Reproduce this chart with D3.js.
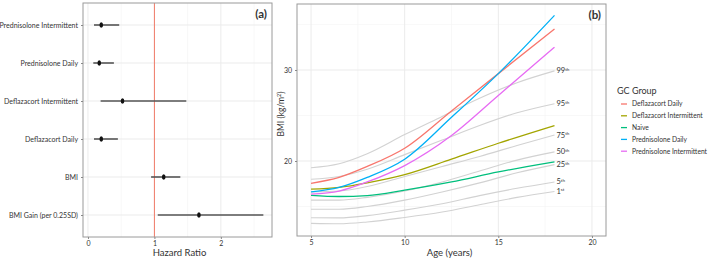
<!DOCTYPE html>
<html>
<head>
<meta charset="utf-8">
<script src="https://cdn.jsdelivr.net/npm/d3@7"></script>
<style>
  body { margin: 0; background: #fff; }
  svg text { font-family: Lato, "Open Sans", sans-serif; fill: #333; }
</style>
</head>
<body>
<svg id="chart" width="709" height="258"></svg>
<script>
// ---- panel (a) data: hazard ratios ----
const hrLabels = ["Prednisolone Intermittent", "Prednisolone Daily", "Deflazacort Intermittent",
  "Deflazacort Daily", "BMI", "BMI Gain (per 0.25SD)"];
const hrEstimate = [0.2, 0.17, 0.52, 0.2, 1.14, 1.67];
const hrLower = [0.09, 0.08, 0.19, 0.09, 0.95, 1.05];
const hrUpper = [0.47, 0.39, 1.48, 0.45, 1.39, 2.64];
const hrTicks = [0, 1, 2];

// ---- panel (b) data: BMI curves ----
const groupNames = ["Deflazacort Daily", "Deflazacort Intermittent", "Naive", "Prednisolone Daily", "Prednisolone Intermittent"];
const groupColors = ["#F8766D", "#A3A500", "#00BF7D", "#00B0F6", "#E76BF3"];
const groupAges = [5, 6.5, 8, 10, 12.5, 15, 18];
const deflDaily = [17.55, 18.2, 19.4, 21.4, 25.5, 29.6, 34.5];
const deflInter = [16.9, 17.1, 17.6, 18.5, 20.2, 21.95, 23.9];
const naive = [16.23, 16.1, 16.2, 16.8, 17.7, 18.8, 19.9];
const predDaily = [16.6, 17.1, 18.2, 20.2, 24.8, 29.6, 36.0];
const predInter = [16.37, 16.7, 17.7, 19.5, 22.8, 27.2, 32.5];
const groupValues = [deflDaily, deflInter, naive, predDaily, predInter];

const pctAges = [5, 6.5, 8, 10, 12, 14, 16, 18];
const pctNames = ["1", "5", "25", "50", "75", "95", "99"];
const pctSuffix = ["st", "th", "th", "th", "th", "th", "th"];
const pct1 = [13.15, 13.1, 13.3, 13.8, 14.4, 15.2, 16.0, 16.65];
const pct5 = [13.77, 13.75, 14.0, 14.6, 15.3, 16.2, 17.0, 17.7];
const pct25 = [14.7, 14.7, 15.0, 15.7, 16.6, 17.6, 18.7, 19.6];
const pct50 = [15.7, 15.7, 16.0, 16.7, 17.7, 18.9, 20.1, 21.0];
const pct75 = [16.6, 16.7, 17.2, 18.3, 19.4, 20.5, 21.7, 22.85];
const pct95 = [18.0, 18.3, 19.1, 20.7, 22.3, 23.9, 25.3, 26.3];
const pct99 = [19.26, 19.7, 20.8, 22.9, 24.9, 26.9, 28.6, 29.9];
const pctValues = [pct1, pct5, pct25, pct50, pct75, pct95, pct99];

const ageTicks = [5, 10, 15, 20];
const bmiTicks = [20, 30];

const svg = d3.select("#chart");
const gridCol = "#ebebeb", borderCol = "#9a9a9a";

// ================= panel (a) =================
const a = { left: 83, right: 272, top: 3, bottom: 237 };
const xa = d3.scaleLinear().domain([-0.075, 2.77]).range([a.left, a.right]);
const ya = d3.scalePoint().domain(hrLabels).range([25, 215]);

const ga = svg.append("g");
[0.5, 1.5, 2.5].forEach(v => ga.append("line")
  .attr("x1", xa(v)).attr("x2", xa(v)).attr("y1", a.top).attr("y2", a.bottom)
  .attr("stroke", "#f4f4f4").attr("stroke-width", 0.6));
hrTicks.forEach(v => ga.append("line")
  .attr("x1", xa(v)).attr("x2", xa(v)).attr("y1", a.top).attr("y2", a.bottom)
  .attr("stroke", gridCol).attr("stroke-width", 1));
hrLabels.forEach(l => ga.append("line")
  .attr("x1", a.left).attr("x2", a.right).attr("y1", ya(l)).attr("y2", ya(l))
  .attr("stroke", gridCol).attr("stroke-width", 1));

ga.append("line")
  .attr("x1", xa(1)).attr("x2", xa(1)).attr("y1", a.top).attr("y2", a.bottom)
  .attr("stroke", "#F07A68").attr("stroke-width", 1);

ga.selectAll(".ci").data(hrLabels).enter().append("line")
  .attr("x1", (d, i) => xa(hrLower[i])).attr("x2", (d, i) => xa(hrUpper[i]))
  .attr("y1", d => ya(d)).attr("y2", d => ya(d))
  .attr("stroke", "#555").attr("stroke-width", 1.6);
ga.selectAll(".pt").data(hrLabels).enter().append("ellipse")
  .attr("cx", (d, i) => xa(hrEstimate[i])).attr("cy", d => ya(d))
  .attr("rx", 1.8).attr("ry", 2.8).attr("fill", "#111");

ga.append("rect").attr("x", a.left).attr("y", a.top)
  .attr("width", a.right - a.left).attr("height", a.bottom - a.top)
  .attr("fill", "none").attr("stroke", borderCol).attr("stroke-width", 1);

const axA = ga.append("g").attr("transform", `translate(0,${a.bottom})`)
  .call(d3.axisBottom(xa).tickValues(hrTicks).tickFormat(d3.format("d")).tickSize(2).tickPadding(2));
axA.select(".domain").remove();
axA.selectAll("line").attr("stroke", "#888");
axA.selectAll("text").style("font-size", "7px").attr("fill", "#444");

const ayA = ga.append("g").attr("transform", `translate(${a.left},0)`)
  .call(d3.axisLeft(ya).tickSize(2).tickPadding(3));
ayA.select(".domain").remove();
ayA.selectAll("line").attr("stroke", "#888");
ayA.selectAll("text").style("font-size", "7px").attr("fill", "#333");

ga.append("text").attr("x", (a.left + a.right) / 2 + 2).attr("y", 256)
  .attr("text-anchor", "middle").style("font-size", "9.5px").text("Hazard Ratio");
ga.append("text").attr("x", a.right - 5).attr("y", 18)
  .attr("text-anchor", "end").style("font-size", "11.5px").style("font-weight", "bold")
  .attr("fill", "#111").text("(a)");

// ================= panel (b) =================
const b = { left: 297, right: 606, top: 4, bottom: 236 };
const xb = d3.scaleLinear().domain([4.25, 20.75]).range([b.left, b.right]);
const yb = d3.scaleLinear().domain([11.76, 37.25]).range([b.bottom, b.top]);

const gb = svg.append("g");
[7.5, 12.5, 17.5].forEach(v => gb.append("line")
  .attr("x1", xb(v)).attr("x2", xb(v)).attr("y1", b.top).attr("y2", b.bottom)
  .attr("stroke", "#f4f4f4").attr("stroke-width", 0.6));
[15, 25, 35].forEach(v => gb.append("line")
  .attr("x1", b.left).attr("x2", b.right).attr("y1", yb(v)).attr("y2", yb(v))
  .attr("stroke", "#f4f4f4").attr("stroke-width", 0.6));
ageTicks.forEach(v => gb.append("line")
  .attr("x1", xb(v)).attr("x2", xb(v)).attr("y1", b.top).attr("y2", b.bottom)
  .attr("stroke", gridCol).attr("stroke-width", 1));
bmiTicks.forEach(v => gb.append("line")
  .attr("x1", b.left).attr("x2", b.right).attr("y1", yb(v)).attr("y2", yb(v))
  .attr("stroke", gridCol).attr("stroke-width", 1));

const lineP = d3.line().x(d => xb(d[0])).y(d => yb(d[1])).curve(d3.curveMonotoneX);

pctValues.forEach((vals, i) => {
  gb.append("path").datum(pctAges.map((ag, j) => [ag, vals[j]]))
    .attr("d", lineP).attr("fill", "none").attr("stroke", "#d2d2d2").attr("stroke-width", 1.1);
  const t = gb.append("text").attr("x", xb(18) + 2).attr("y", yb(vals[vals.length - 1]) + 2.5)
    .style("font-size", "7.5px").attr("fill", "#444");
  t.append("tspan").text(pctNames[i]);
  t.append("tspan").attr("dy", -2.5).style("font-size", "4.5px").text(pctSuffix[i]);
});

groupValues.forEach((vals, i) => {
  gb.append("path").datum(groupAges.map((ag, j) => [ag, vals[j]]))
    .attr("d", lineP).attr("fill", "none").attr("stroke", groupColors[i]).attr("stroke-width", 1.3);
});

gb.append("rect").attr("x", b.left).attr("y", b.top)
  .attr("width", b.right - b.left).attr("height", b.bottom - b.top)
  .attr("fill", "none").attr("stroke", borderCol).attr("stroke-width", 1);

const axB = gb.append("g").attr("transform", `translate(0,${b.bottom})`)
  .call(d3.axisBottom(xb).tickValues(ageTicks).tickSize(2).tickPadding(2));
axB.select(".domain").remove();
axB.selectAll("line").attr("stroke", "#888");
axB.selectAll("text").style("font-size", "7px").attr("fill", "#444");

const ayB = gb.append("g").attr("transform", `translate(${b.left},0)`)
  .call(d3.axisLeft(yb).tickValues(bmiTicks).tickSize(2).tickPadding(3));
ayB.select(".domain").remove();
ayB.selectAll("line").attr("stroke", "#888");
ayB.selectAll("text").style("font-size", "7px").attr("fill", "#444");

gb.append("text").attr("x", (b.left + b.right) / 2 - 2).attr("y", 256)
  .attr("text-anchor", "middle").style("font-size", "9.5px").text("Age (years)");
const yl = gb.append("text").attr("transform", `translate(${b.left - 13},${(b.top + b.bottom) / 2 - 6}) rotate(-90)`)
  .attr("text-anchor", "middle").style("font-size", "8.5px");
yl.append("tspan").text("BMI (kg/m");
yl.append("tspan").attr("dy", -3).style("font-size", "5.5px").text("2");
yl.append("tspan").attr("dy", 3).text(")");
gb.append("text").attr("x", b.right - 5).attr("y", 19)
  .attr("text-anchor", "end").style("font-size", "11.5px").style("font-weight", "bold")
  .attr("fill", "#111").text("(b)");

// legend
const lg = svg.append("g").attr("transform", "translate(617,0)");
lg.append("text").attr("x", 0).attr("y", 94).style("font-size", "9px").text("GC Group");
groupNames.forEach((n, i) => {
  const y = 104 + i * 11.8;
  lg.append("line").attr("x1", 4).attr("x2", 10).attr("y1", y).attr("y2", y)
    .attr("stroke", groupColors[i]).attr("stroke-width", 1.3);
  lg.append("text").attr("x", 15).attr("y", y + 2.4).style("font-size", "6.7px").text(n);
});
</script>
</body>
</html>
